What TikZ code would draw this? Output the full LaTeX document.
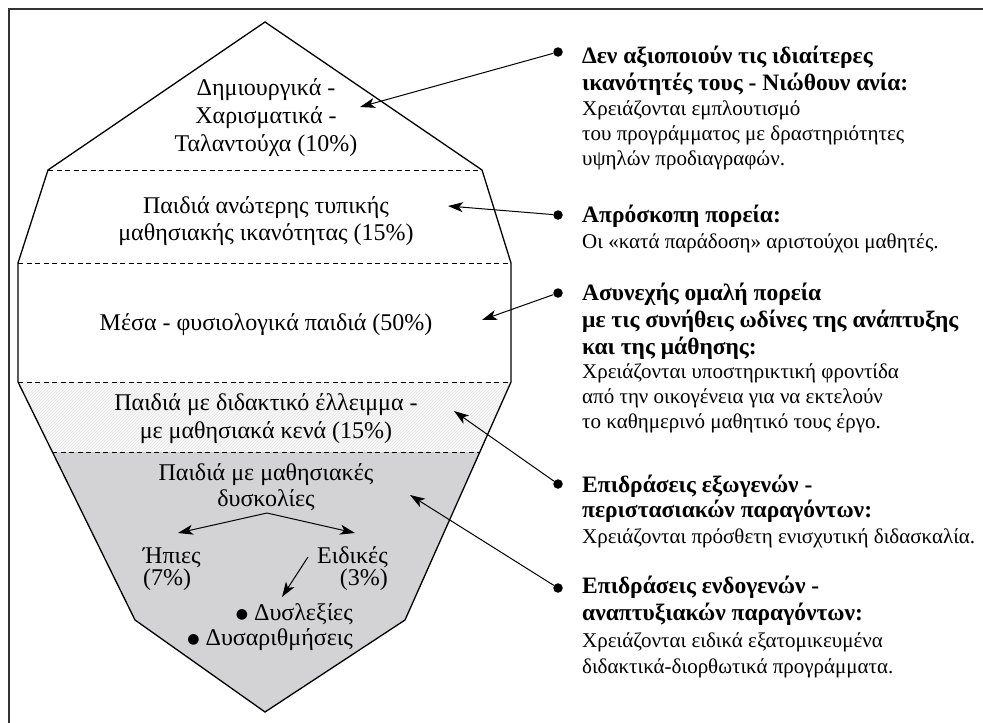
\documentclass[tikz,border=0pt]{standalone}
\usepackage{fontspec}
\setmainfont{Liberation Serif}
\newfontfamily\dejavu{DejaVu Sans}
\usetikzlibrary{arrows.meta,patterns}
\definecolor{shadegray}{RGB}{211,211,213}
\newcommand{\bigbul}{\raisebox{1.5pt}{\dejavu\fontsize{14}{14}\selectfont ●}}
\begin{document}
\begin{tikzpicture}[x=1pt,y=-1pt,
  shapeline/.style={line width=1.3pt, line join=miter},
  divider/.style={line width=0.9pt, dash pattern=on 5pt off 3.5pt},
  conn/.style={line width=1pt, -{Stealth[length=15pt,width=10pt,inset=4pt]}},
  dotb/.style={circle, fill=black, inner sep=0pt, minimum size=9.5pt},
  lt/.style={font=\fontsize{24}{28}\selectfont, inner sep=0pt, anchor=base},
  ltl/.style={lt, anchor=base west},
  ltr/.style={lt, anchor=base east},
  rb/.style={font=\bfseries\fontsize{23.5}{27}\selectfont, inner sep=0pt, anchor=base west},
  rn/.style={font=\fontsize{21}{25}\selectfont, inner sep=0pt, anchor=base west},
]
\useasboundingbox (0,0) rectangle (983,723);
% frame
\draw[line width=2pt, black!80] (9,723) -- (9,9) -- (983,9);

% shape points
\coordinate (A) at (265,22);
\coordinate (B) at (482,170);
\coordinate (C) at (511,263);
\coordinate (D) at (511,382);
\coordinate (E) at (405,620);
\coordinate (F) at (265,712);
\coordinate (G) at (135,620);
\coordinate (H) at (18,382);
\coordinate (I) at (18,263);
\coordinate (J) at (48,170);
\coordinate (KL) at (52.4,452);
\coordinate (KR) at (479.8,452);

% fills
\fill[gray!5] (H) -- (D) -- (KR) -- (KL) -- cycle;
\fill[pattern=north east lines, pattern color=gray!22] (H) -- (D) -- (KR) -- (KL) -- cycle;
\fill[shadegray] (KL) -- (KR) -- (E) -- (F) -- (G) -- cycle;

% dividers
\draw[divider] (J) -- (B);
\draw[divider] (I) -- (C);
\draw[divider] (H) -- (D);
\draw[divider] (KL) -- (KR);

% outline
\draw[shapeline] (A) -- (B) -- (C) -- (D) -- (E) -- (F) -- (G) -- (H) -- (I) -- (J) -- cycle;

% left texts
\node[lt] (l1) at (266,95) {Δημιουργικά -};
\node[lt] (l2) at (266,123) {Χαρισματικά -};
\node[lt] (l3) at (266,151) {Ταλαντούχα (10\%)};
\node[lt] (l4) at (266,213) {Παιδιά ανώτερης τυπικής};
\node[lt] (l5) at (266,240) {μαθησιακής ικανότητας (15\%)};
\node[lt] (l6) at (266,330) {Μέσα - φυσιολογικά παιδιά (50\%)};
\node[lt] (l7) at (266,410) {Παιδιά με διδακτικό έλλειμμα -};
\node[lt] (l8) at (266,438) {με μαθησιακά κενά (15\%)};
\node[lt] (l9) at (266,480) {Παιδιά με μαθησιακές};
\node[lt] (l10) at (266,506) {δυσκολίες};
\node[ltl] (hp) at (143,563) {Ήπιες};
\node[ltl] (hp2) at (143,585) {(7\%)};
\node[ltr] (ei) at (388,563) {Ειδικές};
\node[ltr] (ei2) at (388,585) {(3\%)};
\node[ltr] (dl) at (353,620) {\bigbul\ Δυσλεξίες};
\node[ltr] (da) at (353,645) {\bigbul\ Δυσαριθμήσεις};

% inner arrows
\coordinate (split) at (267,513);
\coordinate (tl) at (178,533);
\coordinate (tr) at (355,533);
\coordinate (es) at (308,557);
\coordinate (et) at (282,597);
\draw[conn] (split) -- (tl);
\draw[conn] (split) -- (tr);
\draw[conn] (es) -- (et);

% right bullets
\node[dotb] (b1) at (558,52) {};
\node[dotb] (b2) at (558,215) {};
\node[dotb] (b3) at (558,293) {};
\node[dotb] (b4) at (558,484) {};
\node[dotb] (b5) at (558,588) {};
\coordinate (t1) at (360,107);
\coordinate (t2) at (448,206);
\coordinate (t3) at (482,320);
\coordinate (t4) at (454,411);
\coordinate (t5) at (410,495);
\draw[conn] (b1) -- (t1);
\draw[conn] (b2) -- (t2);
\draw[conn] (b3) -- (t3);
\draw[conn] (b4) -- (t4);
\draw[conn] (b5) -- (t5);

% right texts
\node[rb] (r1a) at (582,63) {Δεν αξιοποιούν τις ιδιαίτερες};
\node[rb] (r1b) at (582,90) {ικανότητές τους - Νιώθουν ανία:};
\node[rn] (r1c) at (582,115) {Χρειάζονται εμπλουτισμό};
\node[rn] (r1d) at (582,140) {του προγράμματος με δραστηριότητες};
\node[rn] (r1e) at (582,165) {υψηλών προδιαγραφών.};

\node[rb] (r2a) at (582,222) {Απρόσκοπη πορεία:};
\node[rn] (r2b) at (582,248) {Οι «κατά παράδοση» αριστούχοι μαθητές.};

\node[rb] (r3a) at (582,300) {Ασυνεχής ομαλή πορεία};
\node[rb] (r3b) at (582,327) {με τις συνήθεις ωδίνες της ανάπτυξης};
\node[rb] (r3c) at (582,354) {και της μάθησης:};
\node[rn] (r3d) at (582,378) {Χρειάζονται υποστηρικτική φροντίδα};
\node[rn] (r3e) at (582,403) {από την οικογένεια για να εκτελούν};
\node[rn] (r3f) at (582,428) {το καθημερινό μαθητικό τους έργο.};

\node[rb] (r4a) at (582,492) {Επιδράσεις εξωγενών -};
\node[rb] (r4b) at (582,517) {περιστασιακών παραγόντων:};
\node[rn] (r4c) at (582,543) {Χρειάζονται πρόσθετη ενισχυτική διδασκαλία.};

\node[rb] (r5a) at (582,593) {Επιδράσεις ενδογενών -};
\node[rb] (r5b) at (582,620) {αναπτυξιακών παραγόντων:};
\node[rn] (r5c) at (582,647) {Χρειάζονται ειδικά εξατομικευμένα};
\node[rn] (r5d) at (582,673) {διδακτικά-διορθωτικά προγράμματα.};
\end{tikzpicture}
\end{document}
